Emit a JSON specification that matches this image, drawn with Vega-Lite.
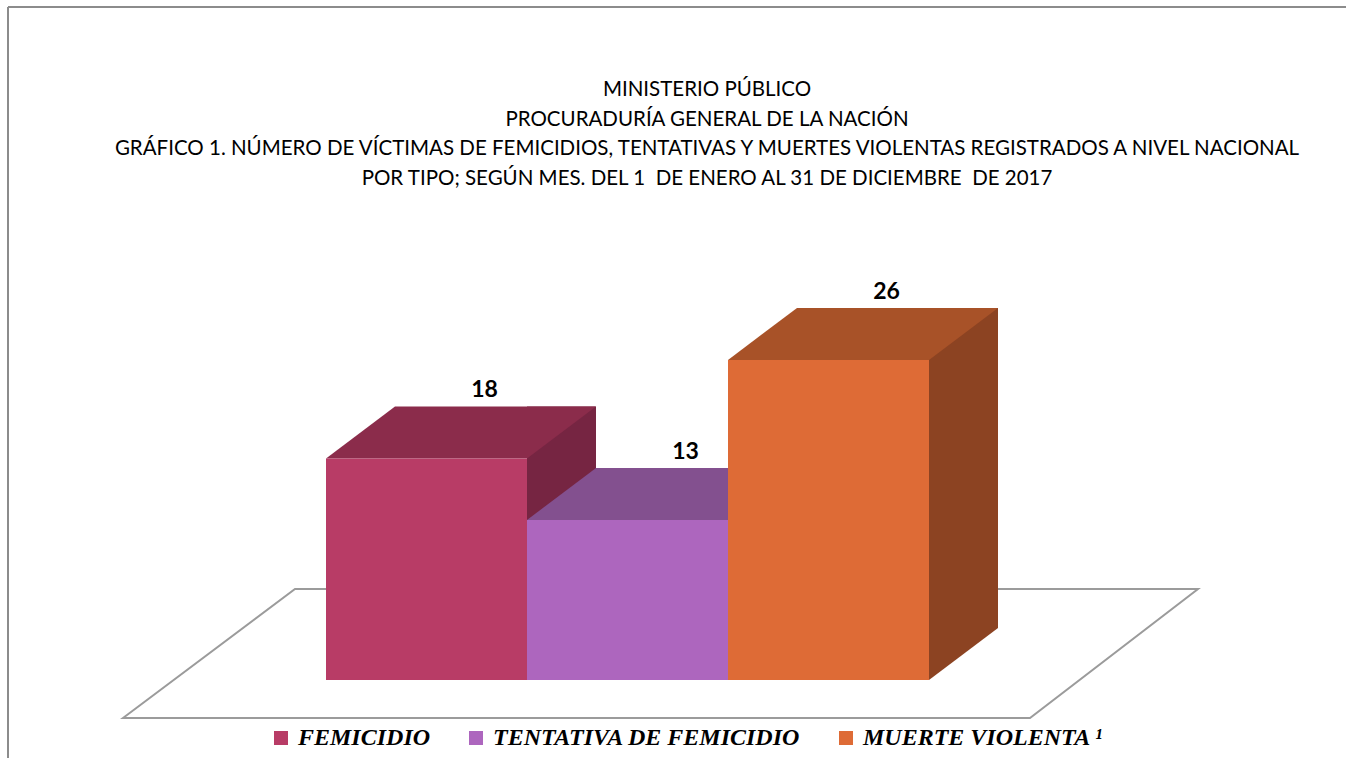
{
  "$schema": "https://vega.github.io/schema/vega-lite/v6.json",
  "autosize": {"type": "none"},
  "width": 1338,
  "height": 751,
  "padding": {"left": 8, "top": 7, "right": 0, "bottom": 0},
  "background": "white",
  "config": {
    "view": {"stroke": "#8c8c8c", "strokeWidth": 2, "strokeDash": [1338, 2089, 751, 0]}
  },
  "title": {
    "text": ["MINISTERIO PÚBLICO", "PROCURADURÍA GENERAL DE LA NACIÓN", "GRÁFICO 1. NÚMERO DE VÍCTIMAS DE FEMICIDIOS, TENTATIVAS Y MUERTES VIOLENTAS REGISTRADOS A NIVEL NACIONAL", "POR TIPO; SEGÚN MES. DEL 1 \u00a0DE ENERO AL 31 DE DICIEMBRE \u00a0DE 2017"],
    "font": "Lato",
    "fontSize": 20.5,
    "fontWeight": "normal",
    "color": "black",
    "anchor": "middle",
    "frame": "group",
    "lineHeight": 29.5,
    "offset": -182,
    "dx": 30
  },
  "data": {
    "values": [
      {"tipo": "FEMICIDIO", "valor": 18},
      {"tipo": "TENTATIVA DE FEMICIDIO", "valor": 13},
      {"tipo": "MUERTE VIOLENTA ¹", "valor": 26}
    ]
  },
  "encoding": {
    "x": {
      "field": "tipo", "type": "nominal", "sort": null, "axis": null,
      "scale": {"domain": ["FEMICIDIO", "TENTATIVA DE FEMICIDIO", "MUERTE VIOLENTA ¹"], "range": [318, 921], "paddingInner": 0, "paddingOuter": 0}
    },
    "y": {
      "field": "valor", "type": "quantitative", "axis": null,
      "scale": {"domain": [-6.336, 54.67], "zero": false, "nice": false}
    }
  },
  "layer": [
    {
      "transform": [{"filter": "datum.tipo === 'TENTATIVA DE FEMICIDIO'"}],
      "mark": {"type": "point", "shape": "M-504.5,38 L-332.5,-91 L570.5,-91 L402.5,38 Z", "size": 4, "filled": true, "fill": "white", "stroke": "#9b9b9b", "strokeWidth": 2, "opacity": 1},
      "encoding": {
        "y": {"datum": 0}
      }
    },
    {
      "mark": {"type": "bar", "width": 69, "xOffset": 135, "yOffset": -52},
      "encoding": {
        "fill": {"condition": [
          {"test": "datum.tipo === 'FEMICIDIO'", "value": "#762542"},
          {"test": "datum.tipo === 'TENTATIVA DE FEMICIDIO'", "value": "#6E4378"}
        ], "value": "#8C4322"}
      }
    },
    {
      "mark": {"type": "point", "shape": "M100.5,0 L169.5,-52 L100.5,-52 Z", "size": 4, "filled": true, "strokeWidth": 0, "opacity": 1},
      "encoding": {
        "y": {"datum": 0},
        "fill": {"condition": [
          {"test": "datum.tipo === 'FEMICIDIO'", "value": "#762542"},
          {"test": "datum.tipo === 'TENTATIVA DE FEMICIDIO'", "value": "#6E4378"}
        ], "value": "#8C4322"}
      }
    },
    {
      "mark": {"type": "point", "shape": "M-100.5,0 L100.5,0 L169.5,-52 L-31.5,-52 Z", "size": 4, "filled": true, "strokeWidth": 0, "opacity": 1},
      "encoding": {
        "fill": {"condition": [
          {"test": "datum.tipo === 'FEMICIDIO'", "value": "#8B2C4B"},
          {"test": "datum.tipo === 'TENTATIVA DE FEMICIDIO'", "value": "#83508F"}
        ], "value": "#A85228"}
      }
    },
    {
      "mark": {"type": "bar"},
      "encoding": {
        "color": {
          "field": "tipo", "type": "nominal", "sort": null,
          "scale": {"domain": ["FEMICIDIO", "TENTATIVA DE FEMICIDIO", "MUERTE VIOLENTA ¹"], "range": ["#B83C66", "#AD66BE", "#DE6B36"]},
          "legend": {
            "orient": "none", "legendX": 261, "legendY": 719, "direction": "horizontal",
            "title": null, "symbolType": "square", "symbolSize": 196, "symbolStrokeWidth": 0,
            "labelFont": "Liberation Serif", "labelFontSize": 24, "labelFontWeight": "bold", "labelFontStyle": "italic",
            "labelColor": "black", "labelOffset": 5, "labelLimit": 500, "columnPadding": 33, "padding": 0
          }
        }
      }
    },
    {
      "mark": {"type": "text", "font": "Lato", "fontSize": 23, "fontWeight": "bold", "color": "black", "dx": 58, "dy": -68},
      "encoding": {"text": {"field": "valor", "type": "quantitative"}}
    }
  ]
}
